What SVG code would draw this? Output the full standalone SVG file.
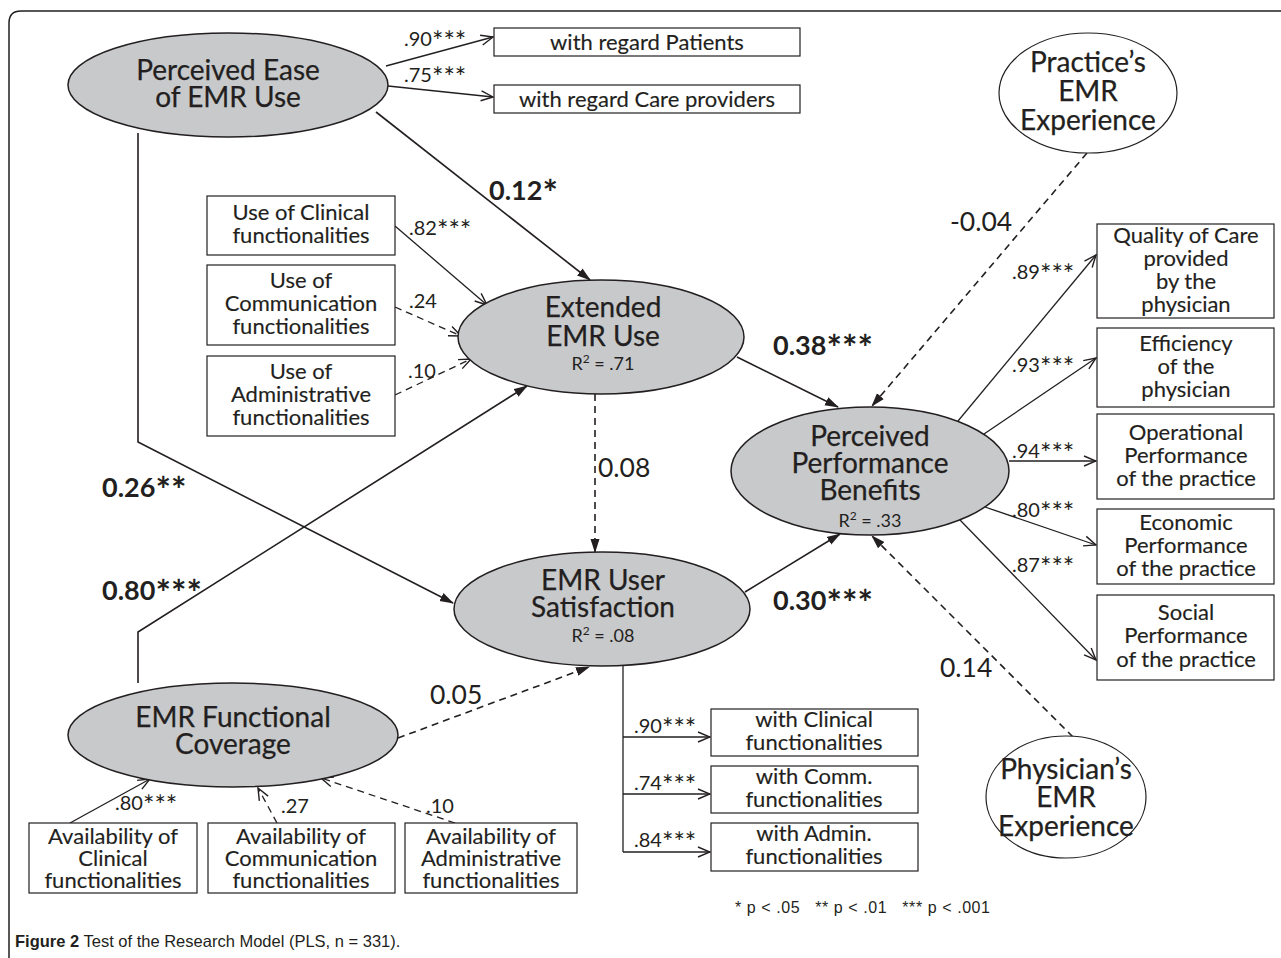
<svg xmlns="http://www.w3.org/2000/svg" width="1281" height="958" viewBox="0 0 1281 958">
<style>
text{font-family:Lato,Carlito,"Liberation Sans",sans-serif;fill:#231f20}
.lat{fill:#c8c9cb;stroke:#231f20;stroke-width:1.5}
.ctl{fill:#fff;stroke:#231f20;stroke-width:1.2}
.box{fill:#fff;stroke:#231f20;stroke-width:1.2}
.big{font-size:28px;text-anchor:middle;stroke:#231f20;stroke-width:0.25}
.bt{font-size:22px;text-anchor:middle;stroke:#231f20;stroke-width:0.15}
.r2{font-size:18px;text-anchor:middle}
.sup{font-size:12px}
.ld{font-size:20px}
.pb{font-size:27px;font-weight:bold}
.pn{font-size:26.5px}
.s{font-size:1.35em}
.c{fill:none;stroke:#231f20;stroke-width:1.6}
.m{fill:none;stroke:#231f20;stroke-width:1.3}
.d{stroke-dasharray:7,5}
.fa{marker-end:url(#fa)}
.oa{marker-end:url(#oa)}
</style>
<defs>
<marker id="fa" viewBox="0 0 14 10" refX="13" refY="5" markerWidth="14" markerHeight="10" markerUnits="userSpaceOnUse" orient="auto"><path d="M0,0.5 L14,5 L0,9.5 z" fill="#231f20"/></marker>
<marker id="oa" viewBox="0 0 14 12" refX="13" refY="6" markerWidth="14" markerHeight="12" markerUnits="userSpaceOnUse" orient="auto"><path d="M1,1 L13,6 L1,11" fill="none" stroke="#231f20" stroke-width="1.4"/></marker>
</defs>
<rect width="1281" height="958" fill="#fff"/>
<path d="M9,970 V23 Q9,11 21,11 H1290" fill="none" stroke="#231f20" stroke-width="1.5"/>

<g id="connectors">
<line class="m oa" x1="386" y1="66" x2="493" y2="37"/>
<line class="m oa" x1="388" y1="86" x2="493" y2="97"/>
<line class="c fa" x1="376" y1="112" x2="590" y2="280"/>
<polyline class="c fa" points="138,133 138,442 453,603"/>
<polyline class="c fa" points="138,683 138,632 527,386"/>
<line class="m oa" x1="395" y1="226" x2="487" y2="305"/>
<line class="m d oa" x1="395" y1="307" x2="461" y2="336"/>
<line class="m d oa" x1="395" y1="395" x2="471" y2="359"/>
<line class="c fa" x1="737" y1="357" x2="838" y2="407"/>
<line class="c d fa" x1="1087" y1="153" x2="872" y2="406"/>
<line class="c d fa" x1="595" y1="394" x2="595" y2="552"/>
<line class="c fa" x1="745" y1="592" x2="840" y2="534"/>
<line class="c d fa" x1="1073" y1="737" x2="872" y2="536"/>
<line class="c d fa" x1="398" y1="738" x2="589" y2="667"/>
<line class="m oa" x1="958" y1="421" x2="1096" y2="255"/>
<line class="m oa" x1="984" y1="434" x2="1096" y2="358"/>
<line class="m oa" x1="1009" y1="461" x2="1096" y2="461"/>
<line class="m oa" x1="985" y1="507" x2="1096" y2="545"/>
<line class="m oa" x1="960" y1="520" x2="1096" y2="660"/>
<path class="m" d="M623,666 V852"/>
<line class="m oa" x1="623" y1="737" x2="710" y2="737"/>
<line class="m oa" x1="623" y1="794" x2="710" y2="794"/>
<line class="m oa" x1="623" y1="852" x2="710" y2="852"/>
<line class="m oa" x1="70" y1="823" x2="150" y2="779"/>
<line class="m d oa" x1="277" y1="823" x2="258" y2="788"/>
<line class="m d oa" x1="455" y1="823" x2="321" y2="778"/>
</g>

<g id="labels">
<text class="ld" x="404" y="46">.90<tspan class="s" dy="5">***</tspan></text>
<text class="ld" x="404" y="82">.75<tspan class="s" dy="5">***</tspan></text>
<text class="pb" x="489" y="200">0.12<tspan class="s" dy="6">*</tspan></text>
<text class="ld" x="409" y="235">.82<tspan class="s" dy="5">***</tspan></text>
<text class="ld" x="409" y="308">.24</text>
<text class="ld" x="408" y="378">.10</text>
<text class="pb" x="773" y="355">0.38<tspan class="s" dy="6">***</tspan></text>
<text class="pb" x="773" y="610">0.30<tspan class="s" dy="6">***</tspan></text>
<text class="pb" x="102" y="497">0.26<tspan class="s" dy="6">**</tspan></text>
<text class="pb" x="102" y="600">0.80<tspan class="s" dy="6">***</tspan></text>
<text class="pn" x="598" y="477">0.08</text>
<text class="pn" x="950" y="231">-0.04</text>
<text class="pn" x="940" y="677">0.14</text>
<text class="pn" x="430" y="704">0.05</text>
<text class="ld" x="1012" y="279">.89<tspan class="s" dy="5">***</tspan></text>
<text class="ld" x="1012" y="372">.93<tspan class="s" dy="5">***</tspan></text>
<text class="ld" x="1012" y="458">.94<tspan class="s" dy="5">***</tspan></text>
<text class="ld" x="1012" y="517">.80<tspan class="s" dy="5">***</tspan></text>
<text class="ld" x="1012" y="572">.87<tspan class="s" dy="5">***</tspan></text>
<text class="ld" x="634" y="733">.90<tspan class="s" dy="5">***</tspan></text>
<text class="ld" x="634" y="790">.74<tspan class="s" dy="5">***</tspan></text>
<text class="ld" x="634" y="847">.84<tspan class="s" dy="5">***</tspan></text>
<text class="ld" x="115" y="810">.80<tspan class="s" dy="5">***</tspan></text>
<text class="ld" x="281" y="813">.27</text>
<text class="ld" x="426" y="813">.10</text>
</g>

<g id="n-pe"><ellipse class="lat" cx="228" cy="85" rx="160" ry="52"/><text class="big" x="228" y="80">Perceived Ease<tspan x="228" dy="27">of EMR Use</tspan></text></g>
<g id="n-patients"><rect class="box" x="494" y="28" width="306" height="28"/><text class="bt" x="647" y="50">with regard Patients</text></g>
<g id="n-care"><rect class="box" x="494" y="85" width="306" height="28"/><text class="bt" x="647" y="107">with regard Care providers</text></g>
<g id="n-practice"><ellipse class="ctl" cx="1088" cy="93" rx="89" ry="60"/><text class="big" x="1088" y="72">Practice’s<tspan x="1088" dy="29">EMR</tspan><tspan x="1088" dy="29">Experience</tspan></text></g>
<g id="n-useclin"><rect class="box" x="207" y="196" width="188" height="59"/><text class="bt" x="301" y="220">Use of Clinical<tspan x="301" dy="23">functionalities</tspan></text></g>
<g id="n-usecomm"><rect class="box" x="207" y="265" width="188" height="80"/><text class="bt" x="301" y="288">Use of<tspan x="301" dy="23">Communication</tspan><tspan x="301" dy="23">functionalities</tspan></text></g>
<g id="n-useadmin"><rect class="box" x="207" y="356" width="188" height="80"/><text class="bt" x="301" y="379">Use of<tspan x="301" dy="23">Administrative</tspan><tspan x="301" dy="23">functionalities</tspan></text></g>
<g id="n-ext"><ellipse class="lat" cx="601" cy="337" rx="143" ry="57"/><text class="big" x="603" y="317">Extended<tspan x="603" dy="29">EMR Use</tspan></text><text class="r2" x="603" y="370">R<tspan class="sup" dy="-7">2</tspan><tspan dy="7"> = .71</tspan></text></g>
<g id="n-ppb"><ellipse class="lat" cx="870" cy="471" rx="139" ry="64"/><text class="big" x="870" y="446">Perceived<tspan x="870" dy="27">Performance</tspan><tspan x="870" dy="27">Benefits</tspan></text><text class="r2" x="870" y="527">R<tspan class="sup" dy="-7">2</tspan><tspan dy="7"> = .33</tspan></text></g>
<g id="n-sat"><ellipse class="lat" cx="602" cy="609" rx="148" ry="57"/><text class="big" x="603" y="590">EMR User<tspan x="603" dy="27">Satisfaction</tspan></text><text class="r2" x="603" y="642">R<tspan class="sup" dy="-7">2</tspan><tspan dy="7"> = .08</tspan></text></g>
<g id="n-fc"><ellipse class="lat" cx="233" cy="735" rx="165" ry="52"/><text class="big" x="233" y="727">EMR Functional<tspan x="233" dy="27">Coverage</tspan></text></g>
<g id="n-quality"><rect class="box" x="1097" y="224" width="177" height="94"/><text class="bt" x="1186" y="243">Quality of Care<tspan x="1186" dy="23">provided</tspan><tspan x="1186" dy="23">by the</tspan><tspan x="1186" dy="23">physician</tspan></text></g>
<g id="n-eff"><rect class="box" x="1097" y="328" width="177" height="79"/><text class="bt" x="1186" y="351">Efficiency<tspan x="1186" dy="23">of the</tspan><tspan x="1186" dy="23">physician</tspan></text></g>
<g id="n-oper"><rect class="box" x="1097" y="414" width="177" height="85"/><text class="bt" x="1186" y="440">Operational<tspan x="1186" dy="23">Performance</tspan><tspan x="1186" dy="23">of the practice</tspan></text></g>
<g id="n-econ"><rect class="box" x="1097" y="509" width="177" height="75"/><text class="bt" x="1186" y="530">Economic<tspan x="1186" dy="23">Performance</tspan><tspan x="1186" dy="23">of the practice</tspan></text></g>
<g id="n-soc"><rect class="box" x="1097" y="595" width="177" height="85"/><text class="bt" x="1186" y="620">Social<tspan x="1186" dy="23">Performance</tspan><tspan x="1186" dy="24">of the practice</tspan></text></g>
<g id="n-avclin"><rect class="box" x="29" y="823" width="168" height="70"/><text class="bt" x="113" y="844">Availability of<tspan x="113" dy="22">Clinical</tspan><tspan x="113" dy="22">functionalities</tspan></text></g>
<g id="n-avcomm"><rect class="box" x="208" y="823" width="187" height="70"/><text class="bt" x="301" y="844">Availability of<tspan x="301" dy="22">Communication</tspan><tspan x="301" dy="22">functionalities</tspan></text></g>
<g id="n-avadmin"><rect class="box" x="405" y="823" width="172" height="70"/><text class="bt" x="491" y="844">Availability of<tspan x="491" dy="22">Administrative</tspan><tspan x="491" dy="22">functionalities</tspan></text></g>
<g id="n-wclin"><rect class="box" x="711" y="709" width="207" height="47"/><text class="bt" x="814" y="727">with Clinical<tspan x="814" dy="23">functionalities</tspan></text></g>
<g id="n-wcomm"><rect class="box" x="711" y="766" width="207" height="47"/><text class="bt" x="814" y="784">with Comm.<tspan x="814" dy="23">functionalities</tspan></text></g>
<g id="n-wadmin"><rect class="box" x="711" y="823" width="207" height="48"/><text class="bt" x="814" y="841">with Admin.<tspan x="814" dy="23">functionalities</tspan></text></g>
<g id="n-phys"><ellipse class="ctl" cx="1066" cy="797" rx="80" ry="61"/><text class="big" x="1066" y="779">Physician’s<tspan x="1066" dy="28">EMR</tspan><tspan x="1066" dy="29">Experience</tspan></text></g>

<text x="735" y="913" textLength="255" style="font-family:'Liberation Sans',Arial,sans-serif;font-size:16px" xml:space="preserve">* p &lt; .05   ** p &lt; .01   *** p &lt; .001</text>
<text x="15" y="947" style="font-family:'Liberation Sans',Arial,sans-serif;font-size:16.5px"><tspan font-weight="bold">Figure 2</tspan> Test of the Research Model (PLS, n = 331).</text>
</svg>
